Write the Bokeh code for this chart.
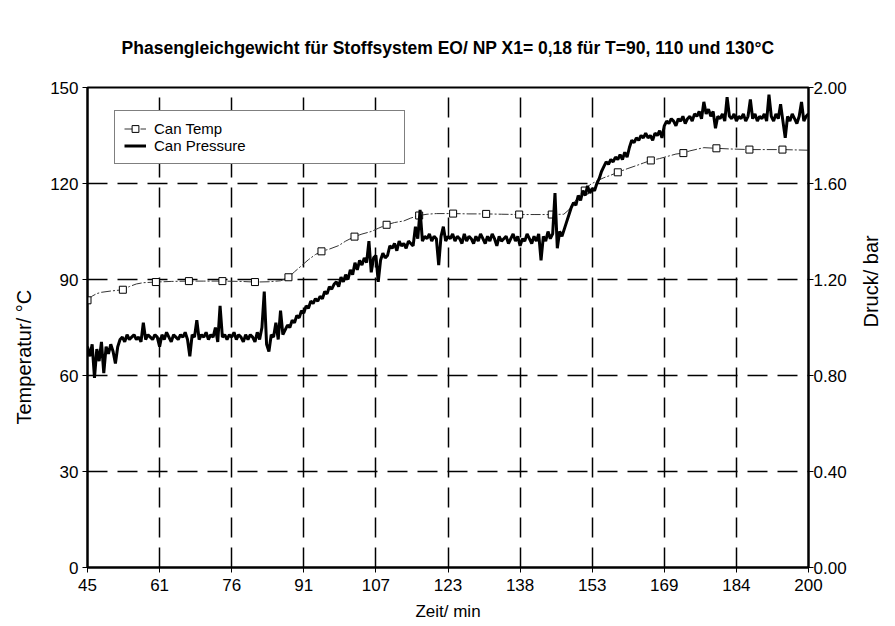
import math
import numpy as np
from bokeh.plotting import figure
from bokeh.models import (Range1d, LinearAxis, FixedTicker, PrintfTickFormatter,
                          Legend, LegendItem, Title)
from bokeh.embed import file_html
from bokeh.resources import INLINE

FONT = "Liberation Sans"

title_text = "Phasengleichgewicht für Stoffsystem EO/ NP X1= 0,18 für T=90, 110 und 130°C"
x_label = "Zeit/ min"
y_label = "Temperatur/ °C"
y2_label = "Druck/ bar"

x_tick_values = [45, 60.5, 76, 91.5, 107, 122.5, 138, 153.5, 169, 184.5, 200]
x_tick_labels = ["45", "61", "76", "91", "107", "123", "138", "153", "169", "184", "200"]
temp_ticks = [0, 30, 60, 90, 120, 150]
press_ticks = [0.0, 0.4, 0.8, 1.2, 1.6, 2.0]

# Can Temp (°C), thin line
temp_time = [45, 46, 47, 48, 50, 52.6, 54, 55.5, 57, 59.7, 63, 66.8, 70, 74, 78, 81, 84, 86.5,
             88.2, 89.5, 91, 92.5, 94, 95.3, 97, 99, 100.5, 102.4, 104, 106, 107.5, 109.3,
             111, 113, 114.5, 116.3, 118, 120, 123.6, 127, 130.7, 134, 137.8, 141, 144.8,
             147.4, 148.5, 149.5, 150.5, 151.9, 153, 154.5, 156, 157.5, 159, 161, 163, 164.5,
             166.1, 168, 170, 171.5, 173.1, 174.5, 176, 177.5, 180.2, 183, 187.3, 191, 194.4,
             197, 200]
temp_value = [83.5, 84.8, 85.6, 86.0, 86.4, 86.8, 87.8, 88.6, 89.0, 89.2, 89.4, 89.5, 89.5, 89.5,
              89.4, 89.2, 89.3, 89.6, 90.7, 92.4, 94.3, 96.2, 97.8, 98.8, 99.5, 100.6, 102.0,
              103.4, 104.2, 105.0, 106.0, 107.1, 107.8, 108.3, 109.2, 110.0, 110.4, 110.6, 110.6,
              110.5, 110.5, 110.4, 110.3, 110.3, 110.3, 110.4, 111.8, 113.8, 115.8, 117.8, 119.6,
              120.8, 121.8, 122.6, 123.5, 124.6, 125.6, 126.4, 127.2, 127.8, 128.6, 129.2, 129.5,
              130.2, 130.7, 131.2, 131.0, 130.8, 130.6, 130.6, 130.6, 130.5, 130.4]

# Can Temp marker samples
temp_marker_time = [45, 52.6, 59.7, 66.8, 74, 81, 88.2, 95.3, 102.4, 109.3, 116.3, 123.6, 130.7,
                    137.8, 144.8, 151.9, 159, 166.1, 173.1, 180.2, 187.3, 194.4]
temp_marker_value = [83.5, 86.8, 89.2, 89.5, 89.5, 89.2, 90.7, 98.8, 103.4, 107.1, 110.0, 110.6,
                     110.5, 110.3, 110.3, 117.8, 123.5, 127.2, 129.5, 131.0, 130.6, 130.6]

# Can Pressure (bar), sampled every 0.5 min from 45 to 200
press_start = 45.0
press_step = 0.5
press_value = [
    0.92, 0.88, 0.93, 0.79, 0.91, 0.86, 0.94, 0.81, 0.92, 0.89,
    0.93, 0.90, 0.85, 0.92, 0.95, 0.96, 0.94, 0.97, 0.95, 0.96,
    0.97, 0.95, 0.96, 0.94, 1.02, 0.95, 0.97, 0.96, 0.95, 0.97,
    0.96, 0.92, 0.97, 0.95, 0.98, 0.96, 0.94, 0.97, 0.96, 0.95,
    0.97, 0.96, 0.98, 0.95, 0.88, 0.97, 0.96, 1.03, 0.95, 0.97,
    0.96, 0.98, 0.95, 0.97, 0.96, 1.00, 0.94, 1.09, 0.96, 0.97,
    0.95, 0.97, 0.96, 0.98, 0.95, 0.97, 0.96, 0.94, 0.97, 0.95,
    0.97, 0.96, 0.94, 0.98, 0.95, 1.00, 1.15, 0.93, 0.90, 0.97,
    0.96, 1.02, 0.95, 1.07, 0.97, 0.99, 1.01, 1.00, 1.03, 1.02,
    1.05, 1.04, 1.07, 1.06, 1.09, 1.08, 1.11, 1.10, 1.12, 1.11,
    1.13, 1.12, 1.15, 1.14, 1.17, 1.16, 1.18, 1.19, 1.17, 1.21,
    1.19, 1.22, 1.20, 1.24, 1.22, 1.27, 1.24, 1.28, 1.26, 1.29,
    1.27, 1.36, 1.23, 1.29, 1.30, 1.19, 1.28, 1.31, 1.29, 1.30,
    1.34, 1.33, 1.35, 1.32, 1.36, 1.34, 1.35, 1.33, 1.36, 1.35,
    1.34, 1.42, 1.37, 1.49, 1.36, 1.38, 1.37, 1.39, 1.36, 1.38,
    1.37, 1.26, 1.38, 1.42, 1.36, 1.38, 1.37, 1.39, 1.36, 1.38,
    1.37, 1.35, 1.39, 1.36, 1.38, 1.37, 1.35, 1.38, 1.36, 1.39,
    1.37, 1.35, 1.38, 1.36, 1.39, 1.37, 1.34, 1.38, 1.36, 1.37,
    1.38, 1.35, 1.37, 1.39, 1.36, 1.38, 1.34, 1.37, 1.36, 1.39,
    1.37, 1.35, 1.38, 1.36, 1.39, 1.28, 1.38, 1.36, 1.40, 1.37,
    1.39, 1.56, 1.33, 1.40, 1.38, 1.41, 1.44, 1.47, 1.50, 1.52,
    1.51, 1.55, 1.53, 1.57, 1.55, 1.59, 1.56, 1.58, 1.57, 1.60,
    1.62, 1.65, 1.67, 1.69, 1.68, 1.70, 1.69, 1.71, 1.70, 1.72,
    1.70, 1.73, 1.71, 1.75, 1.78, 1.77, 1.79, 1.78, 1.80, 1.79,
    1.81, 1.79, 1.80, 1.78, 1.81, 1.80, 1.82, 1.79, 1.84, 1.86,
    1.85, 1.87, 1.86, 1.84, 1.87, 1.86, 1.88, 1.85, 1.87, 1.88,
    1.86, 1.89, 1.88, 1.90, 1.87, 1.94, 1.89, 1.91, 1.88, 1.90,
    1.83, 1.88, 1.87, 1.89, 1.86, 1.96, 1.88, 1.87, 1.89, 1.86,
    1.88, 1.87, 1.89, 1.86, 1.88, 1.95, 1.87, 1.89, 1.86, 1.88,
    1.87, 1.89, 1.86, 1.97, 1.88, 1.86, 1.89, 1.87, 1.93, 1.86,
    1.79, 1.88, 1.86, 1.89, 1.87, 1.85, 1.88, 1.94, 1.86, 1.88,
    1.89,
]
press_time = press_start + press_step * np.arange(len(press_value))

p = figure(width=895, height=626, output_backend="svg", toolbar_location=None,
           x_range=Range1d(45, 200), y_range=Range1d(0, 150),
           min_border_left=87, min_border_right=82, min_border_top=87, min_border_bottom=59,
           title=title_text)
p.extra_y_ranges = {"p": Range1d(0, 2)}
p.background_fill_color = "white"
p.border_fill_color = "white"
p.outline_line_color = "black"
p.outline_line_width = 2

p.title.text_font = FONT
p.title.text_font_size = "17.5px"
p.title.text_font_style = "bold"
p.title.text_color = "black"
p.title.align = "center"
p.title.standoff = 60


def style_axis(ax):
    ax.axis_line_color = "black"
    ax.axis_line_width = 2
    ax.major_tick_line_color = "black"
    ax.major_tick_line_width = 1
    ax.major_tick_out = 5
    ax.major_tick_in = 0
    ax.minor_tick_line_color = None
    ax.major_label_text_font = FONT
    ax.major_label_text_font_size = "17px"
    ax.major_label_text_color = "black"
    ax.axis_label_text_font = FONT
    ax.axis_label_text_font_style = "normal"
    ax.axis_label_text_color = "black"


xa = p.xaxis[0]
style_axis(xa)
xa.ticker = FixedTicker(ticks=x_tick_values)
xa.major_label_overrides = {v: l for v, l in zip(x_tick_values, x_tick_labels)}
xa.major_label_standoff = 6
xa.axis_label = x_label
xa.axis_label_text_font_size = "17px"
xa.axis_label_standoff = 8

ya = p.yaxis[0]
style_axis(ya)
ya.ticker = FixedTicker(ticks=temp_ticks)
ya.major_label_standoff = 4

ya2 = LinearAxis(y_range_name="p", ticker=FixedTicker(ticks=press_ticks),
                 formatter=PrintfTickFormatter(format="%.2f"), axis_label=y2_label)
style_axis(ya2)
ya2.major_label_standoff = 0
ya2.axis_label_text_font_size = "20px"
ya2.axis_label_standoff = 21
ya2.axis_label_orientation = math.pi / 2
p.add_layout(ya2, "right")

# left axis title, shifted below the frame centre as in the reference
p.add_layout(Title(text=y_label, align="left", offset=143, standoff=22,
                   vertical_align="top",
                   text_font=FONT, text_font_size="20px", text_font_style="normal",
                   text_color="black"), "left")

for g, t in ((p.xgrid[0], x_tick_values), (p.ygrid[0], temp_ticks)):
    g.ticker = FixedTicker(ticks=t)
    g.grid_line_color = "black"
    g.grid_line_width = 1.5
    g.grid_line_dash = "20 10"

temp_line = p.line(temp_time, temp_value, line_color="#333333", line_width=1,
                   line_dash="10 2 2 2")
temp_pts = p.scatter(temp_marker_time, temp_marker_value, marker="square", size=7,
                     fill_color="white", line_color="black", line_width=1)
press_line = p.line(press_time, press_value, y_range_name="p", line_color="black",
                    line_width=3)

legend = Legend(items=[LegendItem(label="Can Temp", renderers=[temp_line, temp_pts]),
                       LegendItem(label="Can Pressure", renderers=[press_line])],
                location=(27, 403))
legend.label_text_font = FONT
legend.label_text_font_size = "15px"
legend.label_text_color = "black"
legend.label_height = 17
legend.glyph_height = 17
legend.glyph_width = 22
legend.label_standoff = 8
legend.label_width = 241
legend.spacing = 0
legend.padding = 9
legend.border_line_color = "black"
legend.border_line_width = 1
legend.background_fill_color = "white"
legend.background_fill_alpha = 1
p.add_layout(legend)

open("out.html", "w").write(file_html(p, INLINE))
